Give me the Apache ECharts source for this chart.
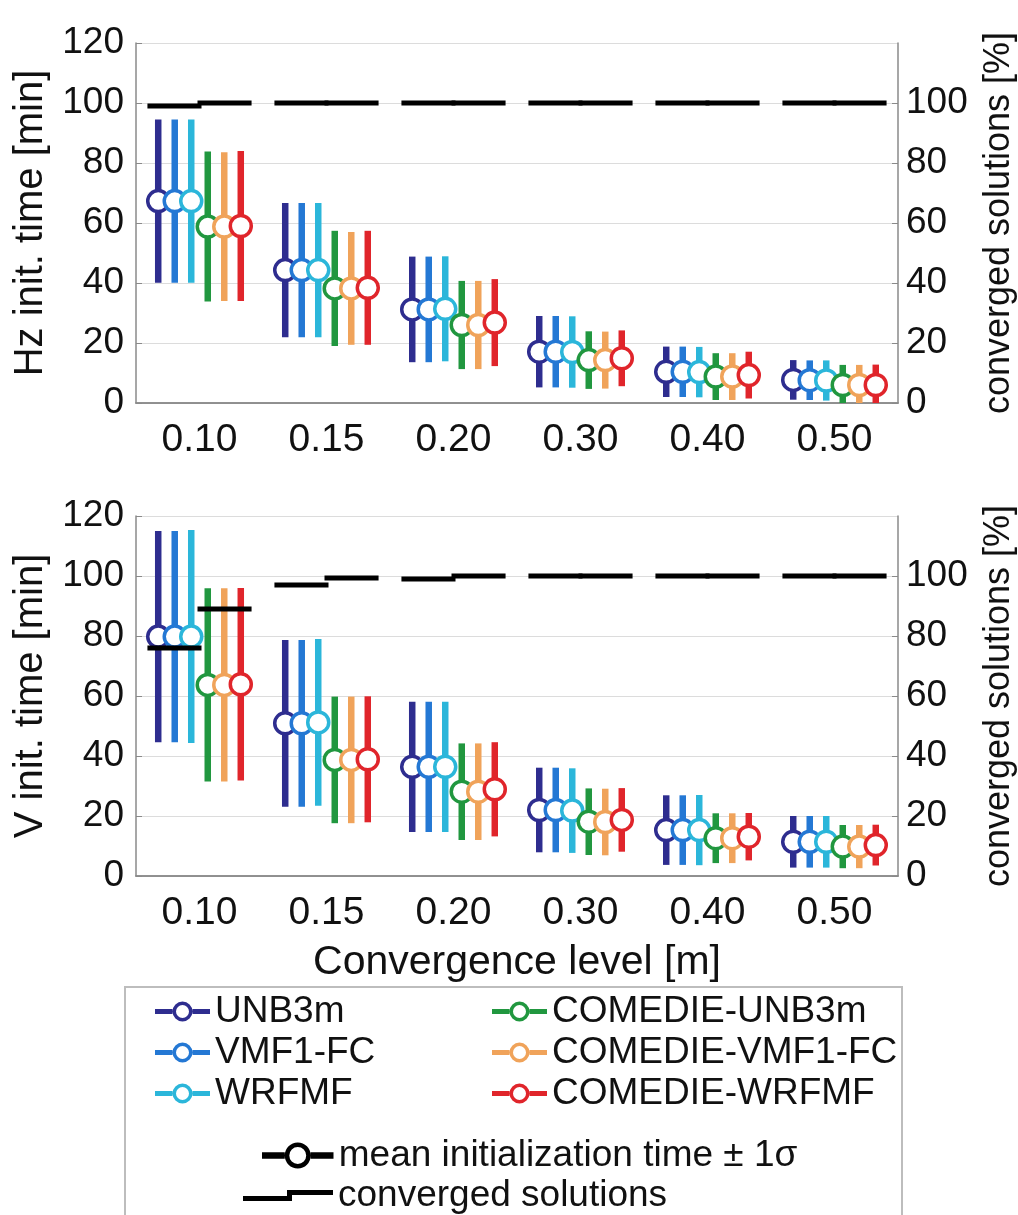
<!DOCTYPE html>
<html>
<head>
<meta charset="utf-8">
<script src="https://cdn.jsdelivr.net/npm/echarts@6/dist/echarts.min.js"></script>
<style>
  html, body { margin: 0; padding: 0; background: #fff; }
  #chart { width: 1018px; height: 1215px; }
</style>
</head>
<body>
<div id="chart"></div>
<script>
const levels = ['0.10', '0.15', '0.20', '0.30', '0.40', '0.50']
const models = ['UNB3m', 'VMF1-FC', 'WRFMF', 'COMEDIE-UNB3m', 'COMEDIE-VMF1-FC', 'COMEDIE-WRFMF']
const colors = ['#2e2d8f', '#2478d4', '#2bb6da', '#21973f', '#f0a35a', '#e0252b']

// Hz init. time: mean and 1 sigma [min], one row per model
const hzMean = [
  [67.3, 44.3, 31.2, 17.1, 10.4, 7.7],
  [67.3, 44.3, 31.2, 17.1, 10.4, 7.6],
  [67.3, 44.3, 31.4, 17.0, 10.3, 7.5],
  [58.8, 38.2, 26.0, 14.3, 8.8, 6.0],
  [58.8, 38.2, 26.0, 14.3, 8.8, 6.0],
  [59.0, 38.4, 26.8, 14.9, 9.3, 6.0]
]
const hzSigma = [
  [27.2, 22.4, 17.6, 11.9, 8.4, 6.6],
  [27.2, 22.4, 17.6, 11.9, 8.4, 6.6],
  [27.2, 22.4, 17.5, 11.9, 8.4, 6.7],
  [25.0, 19.2, 14.7, 9.6, 7.8, 6.7],
  [24.8, 18.8, 14.7, 9.5, 7.8, 6.7],
  [25.0, 19.0, 14.5, 9.3, 7.8, 6.8]
]

// V init. time: mean and 1 sigma [min]
const vMean = [
  [79.8, 50.9, 36.4, 22.0, 15.3, 11.4],
  [79.8, 50.9, 36.4, 22.0, 15.3, 11.4],
  [79.8, 51.2, 36.4, 21.8, 15.3, 11.4],
  [63.7, 38.7, 28.1, 18.1, 12.6, 9.8],
  [63.7, 38.7, 28.1, 18.0, 12.6, 9.8],
  [63.9, 38.9, 28.9, 18.7, 13.1, 10.3]
]
const vSigma = [
  [35.2, 27.8, 21.7, 14.1, 11.6, 8.6],
  [35.2, 27.8, 21.7, 14.1, 11.6, 8.6],
  [35.5, 27.8, 21.7, 14.1, 11.7, 8.6],
  [32.2, 21.1, 16.1, 11.1, 8.3, 7.2],
  [32.2, 21.1, 16.1, 11.1, 8.3, 7.2],
  [32.1, 21.0, 15.7, 10.6, 7.9, 6.8]
]

// converged solutions [%]: standard models (left half) / COMEDIE models (right half)
const hzConvStd = [99, 100, 100, 100, 100, 100]
const hzConvCom = [100, 100, 100, 100, 100, 100]
const vConvStd = [76, 97, 99, 100, 100, 100]
const vConvCom = [89, 99.3, 100, 100, 100, 100]

const FONT = 'Liberation Sans, Arial, Helvetica, sans-serif'
const AXIS_GRAY = '#8a8a8a'
const ringIcon = 'path://M0 7.5H17.5V12.5H0Z M37.5 7.5H55V12.5H37.5Z M17.5 10A10 10 0 1 0 37.5 10A10 10 0 1 0 17.5 10Z M21 10A6.5 6.5 0 1 1 34 10A6.5 6.5 0 1 1 21 10Z'
const stepIcon = 'path://M0 11H44V5H90V10H49V16H0Z'

const chart = echarts.init(document.getElementById('chart'))

const panels = [
  { title: 'Hz init. time [min]', mean: hzMean, sigma: hzSigma, convStd: hzConvStd, convCom: hzConvCom, top: 43 },
  { title: 'V init. time [min]', mean: vMean, sigma: vSigma, convStd: vConvStd, convCom: vConvCom, top: 516 }
]

const grids = []
const xAxes = []
const yAxes = []
const series = []

panels.forEach((p, g) => {
  grids.push({ left: 136, right: 120, top: p.top, height: 360, outerBoundsMode: 'none', containLabel: false })

  // bottom axis
  xAxes.push({
    type: 'category',
    gridIndex: g,
    data: levels,
    position: 'bottom',
    axisLine: { lineStyle: { color: AXIS_GRAY, width: 1.5 } },
    axisTick: { inside: true, alignWithLabel: true, length: 7, lineStyle: { color: AXIS_GRAY } },
    axisLabel: { color: '#111', fontSize: 39, fontFamily: FONT, margin: 18 },
    name: g === 1 ? 'Convergence level [m]' : '',
    nameLocation: 'middle',
    nameGap: 66,
    nameTextStyle: { color: '#111', fontSize: 41, fontFamily: FONT }
  })
  // top frame
  xAxes.push({
    type: 'category',
    gridIndex: g,
    data: levels,
    position: 'top',
    axisLine: { lineStyle: { color: AXIS_GRAY, width: 1.5 } },
    axisTick: { inside: true, alignWithLabel: true, length: 7, lineStyle: { color: AXIS_GRAY } },
    axisLabel: { show: false }
  })
  yAxes.push({
    type: 'value',
    gridIndex: g,
    min: 0,
    max: 120,
    interval: 20,
    position: 'left',
    name: p.title,
    nameLocation: 'middle',
    nameGap: 81,
    nameRotate: 90,
    nameTextStyle: { color: '#111', fontSize: 40, fontFamily: FONT },
    axisLine: { show: true, lineStyle: { color: AXIS_GRAY, width: 1.5 } },
    axisTick: { show: true, inside: true, length: 6, lineStyle: { color: AXIS_GRAY } },
    axisLabel: { color: '#111', fontSize: 37, fontFamily: FONT, margin: 12 },
    splitLine: { lineStyle: { color: '#dcdcdc', width: 1 } }
  })
  yAxes.push({
    type: 'value',
    gridIndex: g,
    min: 0,
    max: 120,
    interval: 20,
    position: 'right',
    name: 'converged solutions [%]',
    nameLocation: 'middle',
    nameGap: 83,
    nameRotate: 90,
    nameTextStyle: { color: '#111', fontSize: 36, fontFamily: FONT },
    axisLine: { show: true, lineStyle: { color: AXIS_GRAY, width: 1.5 } },
    axisTick: { show: true, inside: true, length: 6, lineStyle: { color: AXIS_GRAY } },
    axisLabel: { color: '#111', fontSize: 37, fontFamily: FONT, margin: 8, showMaxLabel: false },
    splitLine: { show: false }
  })

  models.forEach((name, m) => {
    const color = colors[m]
    series.push({
      type: 'custom',
      name,
      xAxisIndex: g * 2,
      yAxisIndex: g * 2,
      itemStyle: { color },
      encode: { x: 0, y: [1, 2, 3] },
      data: levels.map((lv, i) => {
        const mu = p.mean[m][i]
        const s = p.sigma[m][i]
        return [i, mu, Math.max(0, mu - s), mu + s]
      }),
      renderItem: (params, api) => {
        const band = api.size([1, 0])[0]
        const off = (m - 2.5) * band * 0.13
        const c = api.coord([api.value(0), api.value(1)])
        const lo = api.coord([api.value(0), api.value(2)])
        const hi = api.coord([api.value(0), api.value(3)])
        const x = c[0] + off
        return {
          type: 'group',
          children: [
            { type: 'line', shape: { x1: x, y1: lo[1], x2: x, y2: hi[1] }, style: { stroke: color, lineWidth: 6.5 } },
            { type: 'circle', shape: { cx: x, cy: c[1], r: 10.5 }, style: { fill: '#fff', stroke: color, lineWidth: 3.5 } }
          ]
        }
      }
    })
  })

  series.push({
    type: 'custom',
    name: 'converged solutions',
    xAxisIndex: g * 2,
    yAxisIndex: g * 2 + 1,
    itemStyle: { color: '#000' },
    encode: { x: 0, y: [1, 2] },
    z: 5,
    data: levels.map((lv, i) => [i, p.convStd[i], p.convCom[i]]),
    renderItem: (params, api) => {
      const band = api.size([1, 0])[0]
      const half = band * 0.41
      const a = api.coord([api.value(0), api.value(1)])
      const b = api.coord([api.value(0), api.value(2)])
      return {
        type: 'group',
        children: [
          { type: 'line', shape: { x1: a[0] - half, y1: a[1], x2: a[0] + 2, y2: a[1] }, style: { stroke: '#000', lineWidth: 5 } },
          { type: 'line', shape: { x1: b[0] - 2, y1: b[1], x2: b[0] + half, y2: b[1] }, style: { stroke: '#000', lineWidth: 5 } }
        ]
      }
    }
  })
})

// legend-only entry for the marker explanation
series.push({
  type: 'custom',
  name: 'mean initialization time ± 1σ',
  xAxisIndex: 0,
  yAxisIndex: 0,
  itemStyle: { color: '#000' },
  data: [],
  renderItem: () => null
})

const legendText = { color: '#111', fontSize: 37, fontFamily: FONT, lineHeight: 41 }

chart.setOption({
  backgroundColor: '#fff',
  animation: false,
  grid: grids,
  xAxis: xAxes,
  yAxis: yAxes,
  graphic: [{
    type: 'rect',
    z: -10,
    shape: { x: 125, y: 987, width: 777, height: 260 },
    style: { fill: '#fff', stroke: '#bdbdbd', lineWidth: 2 }
  }],
  legend: [
    {
      orient: 'vertical', left: 155, top: 991, padding: 0, itemGap: 0,
      itemWidth: 55, itemHeight: 20, selectedMode: false, textStyle: legendText,
      data: models.slice(0, 3).map(n => ({ name: n, icon: ringIcon }))
    },
    {
      orient: 'vertical', left: 492, top: 991, padding: 0, itemGap: 0,
      itemWidth: 55, itemHeight: 20, selectedMode: false, textStyle: legendText,
      data: models.slice(3).map(n => ({ name: n, icon: ringIcon }))
    },
    {
      orient: 'vertical', left: 262, top: 1135, padding: 0, itemGap: 0,
      itemWidth: 72, itemHeight: 26, selectedMode: false, textStyle: legendText,
      data: [{ name: 'mean initialization time ± 1σ', icon: ringIcon }]
    },
    {
      orient: 'vertical', left: 243, top: 1175, padding: 0, itemGap: 0,
      itemWidth: 90, itemHeight: 20, selectedMode: false, textStyle: legendText,
      data: [{ name: 'converged solutions', icon: stepIcon }]
    }
  ],
  series
})
</script>
</body>
</html>
